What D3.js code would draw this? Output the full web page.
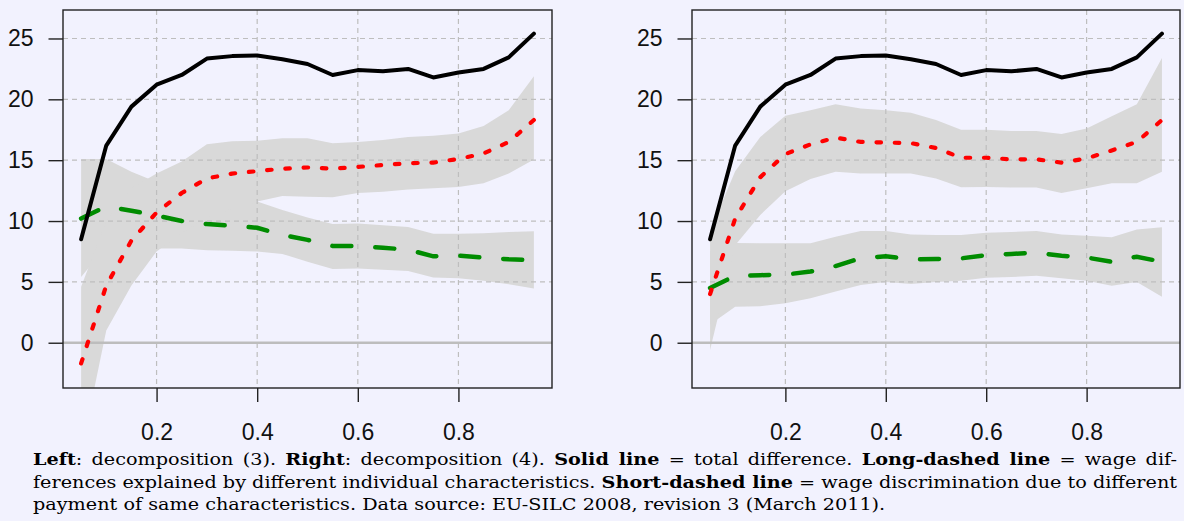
<!DOCTYPE html>
<html>
<head>
<meta charset="utf-8">
<script src="https://cdn.jsdelivr.net/npm/d3@7"></script>
<style>
  body { margin: 0; background: #f2f2fe; }
  svg { display: block; }
</style>
</head>
<body>
<svg id="chart" width="1184" height="521"></svg>
<script>
// quantiles of the wage distribution
var quantiles = [0.05, 0.10, 0.15, 0.20, 0.25, 0.30, 0.35, 0.40, 0.45, 0.50,
                 0.55, 0.60, 0.65, 0.70, 0.75, 0.80, 0.85, 0.90, 0.95];

// total difference (same in both decompositions)
var total = [8.5, 16.2, 19.4, 21.2, 22.0, 23.35, 23.55, 23.6, 23.3, 22.9,
             22.0, 22.4, 22.3, 22.5, 21.8, 22.2, 22.5, 23.45, 25.4];

// Left: decomposition (3)
var explL    = [10.2, 11.2, 10.85, 10.45, 10.0, 9.75, 9.6, 9.45, 8.85, 8.45,
                7.95, 7.95, 7.8, 7.65, 7.1, 7.15, 7.0, 6.85, 6.8];
var explL_lo = [5.4, 7.9, 7.8, 7.75, 7.75, 7.6, 7.55, 7.5, 7.3, 6.65,
                6.05, 6.1, 6.0, 5.9, 5.35, 5.3, 5.1, 4.8, 4.45];
var explL_hi = [15.1, 15.1, 14.05, 13.2, 12.6, 12.2, 11.9, 11.6, 10.9, 10.3,
                9.75, 9.8, 9.65, 9.5, 8.95, 8.95, 9.0, 9.1, 9.15];
var discL    = [-1.7, 4.7, 8.4, 10.7, 12.3, 13.5, 13.9, 14.1, 14.3, 14.4,
                14.3, 14.45, 14.6, 14.75, 14.8, 15.1, 15.55, 16.5, 18.3];
var discL_lo = [-9.0, 1.0, 4.7, 7.5, 9.0, 10.3, 11.0, 11.6, 12.05, 12.0,
                11.95, 12.3, 12.4, 12.6, 12.7, 12.8, 13.1, 13.9, 15.05];
var discL_hi = [4.6, 10.0, 12.7, 13.9, 14.9, 16.3, 16.55, 16.6, 16.8, 16.8,
                16.4, 16.5, 16.65, 16.9, 17.0, 17.2, 17.8, 19.1, 21.9];

// Right: decomposition (4)
var explR    = [4.5, 5.5, 5.55, 5.6, 5.85, 6.3, 6.95, 7.1, 6.85, 6.87,
                6.93, 7.2, 7.3, 7.4, 7.15, 7.0, 6.65, 7.07, 6.65];
var explR_lo = [1.5, 2.96, 3.0, 3.24, 3.65, 4.2, 4.74, 5.0, 4.82, 5.0,
                5.1, 5.34, 5.4, 5.5, 5.3, 5.1, 4.68, 5.0, 3.78];
var explR_hi = [7.5, 8.2, 8.17, 8.17, 8.17, 8.7, 9.18, 9.18, 8.9, 8.85,
                8.85, 9.04, 9.1, 9.18, 8.9, 8.8, 8.66, 9.3, 9.48];
var discR    = [4.0, 10.2, 13.6, 15.5, 16.3, 16.85, 16.5, 16.45, 16.4, 16.0,
                15.2, 15.2, 15.07, 15.07, 14.8, 15.15, 15.8, 16.5, 18.3];
var discR_lo = [-0.6, 8.0, 10.5, 12.45, 13.45, 14.05, 13.9, 13.9, 13.9, 13.5,
                12.77, 12.8, 12.75, 12.75, 12.3, 12.7, 13.1, 13.1, 14.05];
var discR_hi = [9.2, 14.1, 16.9, 18.65, 19.1, 19.6, 19.25, 19.1, 18.9, 18.3,
                17.5, 17.5, 17.4, 17.4, 17.15, 17.6, 18.6, 19.6, 23.4];

var xTicks = [0.2, 0.4, 0.6, 0.8];
var yTicks = [0, 5, 10, 15, 20, 25];

var captionLines = [
  [["Left", true], [": decomposition (3). ", false], ["Right", true], [": decomposition (4). ", false],
   ["Solid line", true], [" = total difference. ", false], ["Long-dashed line", true], [" = wage dif-", false]],
  [["ferences explained by different individual characteristics. ", false],
   ["Short-dashed line", true], [" = wage discrimination due to different", false]],
  [["payment of same characteristics. Data source: EU-SILC 2008, revision 3 (March 2011).", false]]
];

var svg = d3.select("#chart");
var top_y = 10, bottom_y = 388;

var panels = [
  {id: "L", x0: 63, x1: 552, expl: explL, explLo: explL_lo, explHi: explL_hi,
   disc: discL, discLo: discL_lo, discHi: discL_hi},
  {id: "R", x0: 692, x1: 1180, expl: explR, explLo: explR_lo, explHi: explR_hi,
   disc: discR, discLo: discR_lo, discHi: discR_hi}
];

var y = d3.scaleLinear().domain([-3.72, 27.34]).range([bottom_y, top_y]);

panels.forEach(function(p) {
  var x = d3.scaleLinear().domain([0.014, 0.986]).range([p.x0, p.x1]);

  svg.append("clipPath").attr("id", "clip" + p.id)
    .append("rect")
      .attr("x", p.x0).attr("y", top_y)
      .attr("width", p.x1 - p.x0).attr("height", bottom_y - top_y);

  var g = svg.append("g").attr("clip-path", "url(#clip" + p.id + ")");

  // confidence bands
  function band(lo, hi) {
    return d3.area()
      .x(function(d, i) { return x(quantiles[i]); })
      .y0(function(d, i) { return y(lo[i]); })
      .y1(function(d, i) { return y(hi[i]); })(quantiles);
  }
  g.append("path").attr("d", band(p.explLo, p.explHi)).attr("fill", "#d9d9d9");
  g.append("path").attr("d", band(p.discLo, p.discHi)).attr("fill", "#d9d9d9");

  // grid
  g.selectAll(".hgrid").data(yTicks.filter(function(v) { return v !== 0; })).enter()
    .append("line")
      .attr("x1", p.x0).attr("x2", p.x1)
      .attr("y1", function(d) { return y(d); }).attr("y2", function(d) { return y(d); })
      .attr("stroke", "#bebebe").attr("stroke-width", 1.2).attr("stroke-dasharray", "5,4");
  g.selectAll(".vgrid").data(xTicks).enter()
    .append("line")
      .attr("y1", top_y).attr("y2", bottom_y)
      .attr("x1", function(d) { return x(d); }).attr("x2", function(d) { return x(d); })
      .attr("stroke", "#bebebe").attr("stroke-width", 1.2).attr("stroke-dasharray", "5,4");

  // zero line
  g.append("line")
    .attr("x1", p.x0).attr("x2", p.x1).attr("y1", y(0)).attr("y2", y(0))
    .attr("stroke", "#bdbdbd").attr("stroke-width", 2.6);

  var line = function(vals) {
    return d3.line()
      .x(function(d, i) { return x(quantiles[i]); })
      .y(function(d) { return y(d); })(vals);
  };

  g.append("path").attr("d", line(p.expl))
    .attr("fill", "none").attr("stroke", "#008c00").attr("stroke-width", 4.5)
    .attr("stroke-linecap", "round").attr("stroke-dasharray", "19,24");
  g.append("path").attr("d", line(p.disc))
    .attr("fill", "none").attr("stroke", "#ff0000").attr("stroke-width", 4.2)
    .attr("stroke-linecap", "round").attr("stroke-dasharray", "4.5,13.8");
  g.append("path").attr("d", line(total))
    .attr("fill", "none").attr("stroke", "#000").attr("stroke-width", 4)
    .attr("stroke-linecap", "round").attr("stroke-linejoin", "round");

  // axes
  var ay = svg.append("g").attr("transform", "translate(" + p.x0 + ",0)")
    .call(d3.axisLeft(y).tickValues(yTicks).tickSize(14.5).tickPadding(15));
  var ax = svg.append("g").attr("transform", "translate(0," + bottom_y + ")")
    .call(d3.axisBottom(x).tickValues(xTicks).tickSize(14).tickPadding(21.7)
      .tickFormat(d3.format(".1f")));
  [ay, ax].forEach(function(a) {
    a.select(".domain").remove();
    a.attr("font-family", "'Liberation Sans', Arial, sans-serif").attr("font-size", 23);
    a.selectAll("line").attr("stroke", "#222").attr("stroke-width", 1.4);
    a.selectAll("text").attr("fill", "#111");
  });

  // box
  svg.append("rect")
    .attr("x", p.x0).attr("y", top_y)
    .attr("width", p.x1 - p.x0).attr("height", bottom_y - top_y)
    .attr("fill", "none").attr("stroke", "#222").attr("stroke-width", 1.4);
});

// caption: glyphs stretched horizontally, lines 1-2 justified with word spacing
var capLeft = 33, capWidths = [1144, 1144, 853];
var capTexts = captionLines.map(function(parts, i) {
  var t = svg.append("text")
    .attr("y", 465 + i * 22.6)
    .attr("font-family", "'DejaVu Serif', serif")
    .attr("font-size", 16)
    .attr("fill", "#000");
  parts.forEach(function(pt) {
    t.append("tspan").attr("font-weight", pt[1] ? "bold" : "normal").text(pt[0]);
  });
  return t;
});
var sx = capWidths[2] / capTexts[2].node().getComputedTextLength();
capTexts.forEach(function(t, i) {
  t.attr("transform", "translate(" + capLeft + ",0) scale(" + sx + ",1)");
  if (i < 2) {
    var w = t.node().getComputedTextLength();
    var txt = captionLines[i].map(function(pt) { return pt[0]; }).join("");
    var nSpaces = txt.split(" ").length - 1;
    t.style("word-spacing", ((capWidths[i] / sx - w) / nSpaces) + "px");
  }
});
</script>
</body>
</html>
